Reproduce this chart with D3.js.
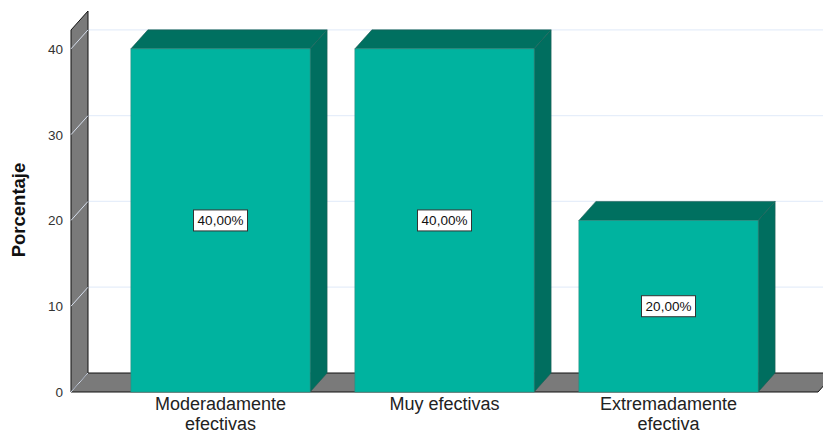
<!DOCTYPE html>
<html>
<head>
<meta charset="utf-8">
<script src="https://cdn.jsdelivr.net/npm/d3@7"></script>
<style>
  html, body { margin: 0; padding: 0; background: #ffffff; }
  svg { display: block; font-family: Arial, "Liberation Sans", sans-serif; }
</style>
</head>
<body>
<svg id="chart" width="823" height="434"></svg>
<script>
// Survey result: share of responses per category
const categories = ["Moderadamente efectivas", "Muy efectivas", "Extremadamente efectiva"];
const categoryLines = [["Moderadamente", "efectivas"], ["Muy efectivas"], ["Extremadamente", "efectiva"]];
const percentages = [40, 40, 20];
const yTicks = [0, 10, 20, 30, 40];
const yTitle = "Porcentaje";

const svg = d3.select("#chart");
const W = 823, H = 434;

// 3D depth offset of the pseudo-perspective
const DX = 17, DY = -19;

// front plane geometry
const floorY = 392;
const x0 = 71, x1 = 818;

const y = d3.scaleLinear().domain([0, 42.2]).range([floorY, 30]);
const x = d3.scaleBand().domain(categories).range([108.5, 780.5])
  .paddingInner(0.2).paddingOuter(0.1);

const fmt = v => d3.format(".2f")(v).replace(".", ",") + "%";

// back wall gridlines
svg.append("g").selectAll("line").data(yTicks.filter(t => t > 0)).join("line")
  .attr("x1", x0 + DX).attr("x2", W)
  .attr("y1", d => y(d) + DY).attr("y2", d => y(d) + DY)
  .attr("stroke", "#e6eefa").attr("stroke-width", 1.2);

// left wall
const wallTop = y.domain()[1];
svg.append("path")
  .attr("d", `M${x0},${floorY} L${x0},${y(wallTop)} L${x0 + DX},${y(wallTop) + DY} L${x0 + DX},${floorY + DY} Z`)
  .attr("fill", "#7a7a7a").attr("stroke", "#111").attr("stroke-width", 1)
  .attr("stroke-linejoin", "round");

// tick guides across the left wall
svg.append("g").selectAll("line").data(yTicks).join("line")
  .attr("x1", x0).attr("x2", x0 + DX)
  .attr("y1", d => y(d)).attr("y2", d => y(d) + DY)
  .attr("stroke", "#d6deec").attr("stroke-width", 1);

// floor
svg.append("path")
  .attr("d", `M${x0},${floorY} L${x1},${floorY} L${x1 + DX},${floorY + DY} L${x0 + DX},${floorY + DY} Z`)
  .attr("fill", "#7a7a7a").attr("stroke", "#111").attr("stroke-width", 1)
  .attr("stroke-linejoin", "round");
svg.append("line")
  .attr("x1", x0).attr("x2", x0 + DX).attr("y1", floorY).attr("y2", floorY + DY)
  .attr("stroke", "#d6deec").attr("stroke-width", 1);

// y tick labels
svg.append("g").selectAll("text").data(yTicks).join("text")
  .attr("x", 63).attr("y", d => y(d)).attr("dy", "0.36em")
  .attr("text-anchor", "end").attr("font-size", 13.5).attr("fill", "#333")
  .text(d => d);

// y axis title
svg.append("text")
  .attr("transform", `translate(25,210) rotate(-90)`)
  .attr("text-anchor", "middle").attr("font-size", 18.5).attr("font-weight", "bold")
  .attr("fill", "#111").text(yTitle);

// bars: side, top, front faces
const bars = svg.append("g").selectAll("g").data(categories).join("g");
bars.each(function (c, i) {
  const g = d3.select(this);
  const bx = x(c), bw = x.bandwidth();
  const top = y(percentages[i]), base = y(0);
  g.append("path")
    .attr("d", `M${bx + bw},${base} L${bx + bw},${top} L${bx + bw + DX},${top + DY} L${bx + bw + DX},${base + DY} Z`)
    .attr("fill", "#006e5f").attr("stroke", "#1f5e55").attr("stroke-width", 0.6);
  g.append("path")
    .attr("d", `M${bx},${top} L${bx + bw},${top} L${bx + bw + DX},${top + DY} L${bx + DX},${top + DY} Z`)
    .attr("fill", "#007060").attr("stroke", "#1f5e55").attr("stroke-width", 0.6);
  g.append("rect")
    .attr("x", bx).attr("y", top).attr("width", bw).attr("height", base - top)
    .attr("fill", "#00b39f").attr("stroke", "#2b8a7e").attr("stroke-width", 0.6);
});

// value labels
const labels = svg.append("g").selectAll("g").data(categories).join("g")
  .attr("transform", (c, i) => `translate(${x(c) + x.bandwidth() / 2},${y(percentages[i] / 2)})`);
labels.append("rect")
  .attr("x", -27).attr("y", -10.5).attr("width", 54).attr("height", 21)
  .attr("fill", "#ffffff").attr("stroke", "#333").attr("stroke-width", 1);
labels.append("text")
  .attr("text-anchor", "middle").attr("dy", "0.36em").attr("font-size", 13.5)
  .attr("fill", "#111").text((c, i) => fmt(percentages[i]));

// category labels (one text element per line)
const catLines = [];
categories.forEach((c, i) => categoryLines[i].forEach((t, j) => catLines.push({ c, t, j })));
svg.append("g").selectAll("text").data(catLines).join("text")
  .attr("x", d => x(d.c) + x.bandwidth() / 2)
  .attr("y", d => 410 + d.j * 20)
  .attr("text-anchor", "middle").attr("font-size", 18).attr("fill", "#222")
  .text(d => d.t);
</script>
</body>
</html>
